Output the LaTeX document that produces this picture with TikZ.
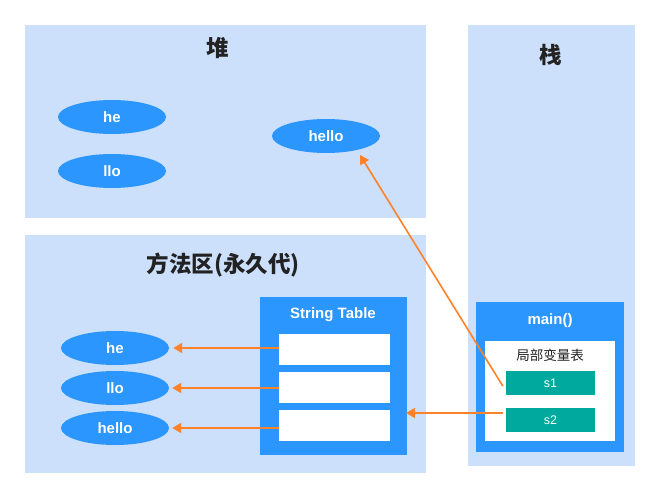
\documentclass[tikz,border=0pt]{standalone}
\usepackage{fontspec}
\setmainfont{Liberation Sans}
\newfontfamily\cjk{Noto Sans CJK SC}
\usetikzlibrary{shapes.geometric,arrows.meta}
\definecolor{areabg}{HTML}{CCE0FC}
\definecolor{mblue}{HTML}{2B96FE}
\definecolor{mteal}{HTML}{00A99D}
\definecolor{morange}{HTML}{FF8228}
\definecolor{ttlcol}{HTML}{222222}
\tikzset{
  ell/.style={ellipse, fill=mblue, draw=none, minimum width=108pt, minimum height=34pt, inner sep=0pt, text=white, font=\fontsize{15}{17}\selectfont\bfseries},
  ttl/.style={font=\cjk\bfseries\fontsize{22.5}{26}\selectfont, text=ttlcol},
  wbox/.style={fill=white, draw=none, minimum width=111pt, minimum height=31pt, inner sep=0pt},
  sbox/.style={fill=mteal, draw=none, minimum width=89pt, minimum height=24pt, inner sep=0pt, text=white, font=\fontsize{12.5}{14}\selectfont},
  hdr/.style={text=white, font=\fontsize{15}{17}\selectfont\bfseries},
  arr/.style={draw=morange, line width=1.6pt, -{Triangle[length=9pt,width=10pt]}},
}
\begin{document}
\begin{tikzpicture}[x=1pt,y=-1pt]
\useasboundingbox (0,0) rectangle (661,492);
\fill[white] (0,0) rectangle (661,492);
% areas
\fill[areabg] (25,25) rectangle (426,218);
\fill[areabg] (468,25) rectangle (635,466);
\fill[areabg] (25,235) rectangle (426,473);
\node[ttl] (heapt) at (218,48) {堆};
\node[ttl] (stackt) at (551,55) {栈};
\node[ttl] (mat) at (223,265) {方法区(永久代)};
% heap ellipses
\node[ell] (h1) at (112,117) {he};
\node[ell] (h2) at (112,171) {llo};
\node[ell] (h3) at (326,136) {hello};
% method area ellipses
\node[ell] (m1) at (115,348) {he};
\node[ell] (m2) at (115,388) {llo};
\node[ell] (m3) at (115,428) {hello};
% string table
\fill[mblue] (260,297) rectangle (407,455);
\node[hdr] (stt) at (333,315) {String Table};
\node[wbox] (b1) at (334.5,349.5) {};
\node[wbox] (b2) at (334.5,387.5) {};
\node[wbox] (b3) at (334.5,425.5) {};
\coordinate (stR) at (406,413);
% main
\fill[mblue] (476,302) rectangle (624,452);
\fill[white] (485,341) rectangle (615,441);
\node[hdr] (mt) at (550,321) {main()};
\node[font=\cjk\fontsize{13.5}{16}\selectfont, text=ttlcol] (lv) at (550,355) {局部变量表};
\node[sbox] (s1) at (550.5,383) {s1};
\node[sbox] (s2) at (550.5,420) {s2};
% arrows
\coordinate (a1) at ([xshift=4pt]m1.east);
\coordinate (a2) at ([xshift=3pt]m2.east);
\coordinate (a3) at ([xshift=3pt]m3.east);
\draw[arr] (b1.west |- a1) -- (a1);
\draw[arr] (b2.west |- a2) -- (a2);
\draw[arr] (b3.west |- a3) -- (a3);
\coordinate (s2t) at ([xshift=-3pt]s2.west |- stR);
\coordinate (s1t) at ([xshift=-3pt,yshift=-3pt]s1.west);
\coordinate (h3b) at (360,155);
\draw[arr] (s2t) -- (stR);
\draw[arr] (s1t) -- (h3b);
\end{tikzpicture}
\end{document}
